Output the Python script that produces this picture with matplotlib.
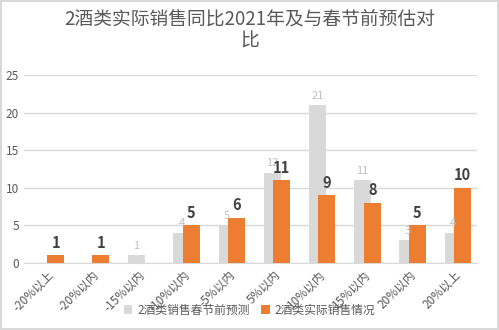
import numpy as np
import matplotlib.pyplot as plt

plt.rcParams['font.family'] = ['Noto Sans CJK SC', 'DejaVu Sans']

categories = ['-20%以上', '-20%以内', '-15%以内', '-10%以内', '-5%以内',
              '5%以内', '10%以内', '15%以内', '20%以内', '20%以上']
forecast = [0, 0, 1, 4, 5, 12, 21, 11, 3, 4]
actual = [1, 1, 0, 5, 6, 11, 9, 8, 5, 10]
forecast_name = '2酒类销售春节前预测'
actual_name = '2酒类实际销售情况'
title = '2酒类实际销售同比2021年及与春节前预估对\n比'

fig = plt.figure(figsize=(4.99, 3.30), dpi=100)
fig.patch.set_edgecolor('#d9d9d9')
fig.patch.set_linewidth(1.5)
ax = fig.add_axes([24.4 / 499, 67 / 330, 452.2 / 499, 188 / 330])

x = np.arange(len(categories))
bw = 0.375
ax.bar(x - 0.02, forecast, width=bw, color='#d9d9d9', label=forecast_name, zorder=2)
ax.bar(x + 0.19, actual, width=bw, color='#ed7d31', label=actual_name, zorder=3)

for xi, v in zip(x, forecast):
    if v:
        ax.text(xi - 0.02, v + 0.6, str(v), ha='center', va='bottom',
                fontsize=8, color='#bfbfbf', zorder=4)
for xi, v in zip(x, actual):
    if v:
        ax.text(xi + 0.19, v + 0.6, str(v), ha='center', va='bottom',
                fontsize=10.5, fontweight='bold', color='#404040', zorder=4)

ax.set_xlim(-0.5, len(categories) - 0.5)
ax.set_ylim(0, 25)
ax.set_yticks(range(0, 26, 5))
ax.yaxis.grid(True, color='#d9d9d9', linewidth=1)
ax.set_axisbelow(True)
for s in ['top', 'right', 'left']:
    ax.spines[s].set_visible(False)
ax.spines['bottom'].set_color('#d9d9d9')
ax.tick_params(axis='both', length=0, colors='#595959', labelsize=8.5)
ax.tick_params(axis='y', pad=4)
ax.set_xticks(x)
ax.set_xticklabels(categories, rotation=45, ha='right', rotation_mode='anchor',
                   fontsize=8.5)

fig.text(0.5, 0.975, title, ha='center', va='top', fontsize=13.5,
         color='#595959', linespacing=1.1)

fig.legend(loc='center', bbox_to_anchor=(0.5, 0.06), ncol=2, frameon=False,
           fontsize=8.5, handlelength=0.7, handleheight=0.7, columnspacing=1.0,
           handletextpad=0.4, labelcolor='#595959')

fig.savefig('out.png', dpi=100, edgecolor=fig.get_edgecolor())
